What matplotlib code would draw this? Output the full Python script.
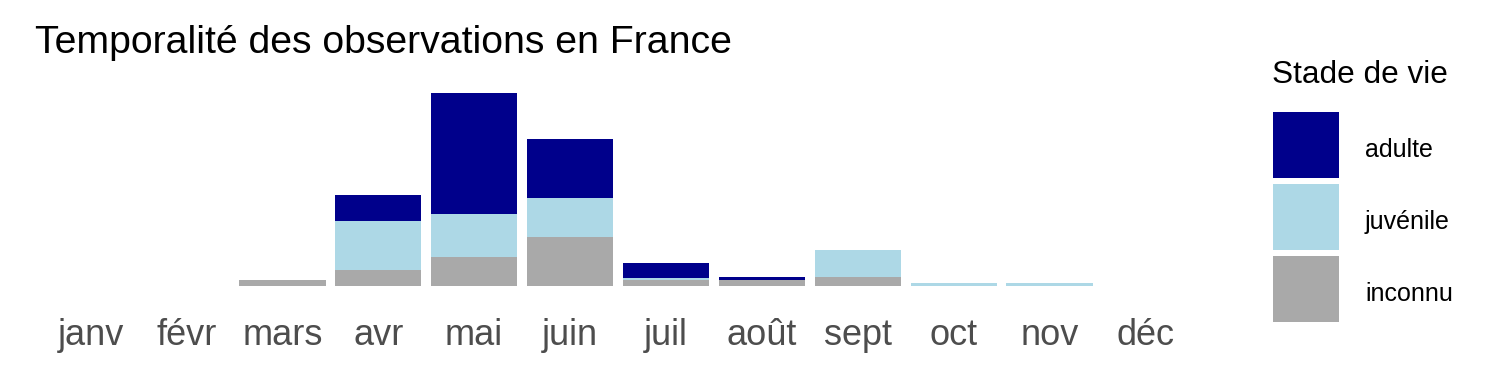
import matplotlib
matplotlib.use("Agg")
import matplotlib.pyplot as plt
from matplotlib.patches import Rectangle
import numpy as np

plt.rcParams['font.family'] = ['Liberation Sans', 'DejaVu Sans']

# donnees (unites arbitraires)
mois = ["janv", "févr", "mars", "avr", "mai", "juin",
        "juil", "août", "sept", "oct", "nov", "déc"]
inconnu = [0, 0, 6, 16, 29, 49, 6, 6, 9, 0, 0, 0]
juvenile = [0, 0, 0, 49, 43, 39, 2.5, 0, 27, 3, 3, 0]
adulte = [0, 0, 0, 26, 121, 59, 14.5, 3, 0, 0, 0, 0]

stades = ["adulte", "juvénile", "inconnu"]
couleurs = {"adulte": "#00008B", "juvénile": "#ADD8E6", "inconnu": "#A9A9A9"}

W, H = 1500, 375
fig = plt.figure(figsize=(15, 3.75), dpi=100)

# axes placed in pixel terms
left, right, top, bottom = 33.0, 1203.0, 83.35, 295.65
ax = fig.add_axes([left / W, 1 - bottom / H, (right - left) / W, (bottom - top) / H])

x = np.arange(len(mois))
inc = np.array(inconnu, dtype=float)
juv = np.array(juvenile, dtype=float)
adu = np.array(adulte, dtype=float)

ax.bar(x, inc, width=0.9, color=couleurs["inconnu"], linewidth=0)
ax.bar(x, juv, width=0.9, bottom=inc, color=couleurs["juvénile"], linewidth=0)
ax.bar(x, adu, width=0.9, bottom=inc + juv, color=couleurs["adulte"], linewidth=0)

ymax = (inc + juv + adu).max()
ax.set_xlim(-0.6, len(mois) - 0.4)
ax.set_ylim(-0.05 * ymax, 1.05 * ymax)
ax.set_xticks(x)
ax.set_xticklabels(mois, fontsize=26, color="#4D4D4D")
ax.tick_params(axis="x", length=0, pad=16)
ax.set_yticks([])
for s in ax.spines.values():
    s.set_visible(False)

fig.text(35 / W, 1 - 52.7 / H, "Temporalité des observations en France",
         fontsize=28.3, va="baseline", ha="left")

# legende
fig.text(1271.5 / W, 1 - 83 / H, "Stade de vie", fontsize=22.7,
         va="baseline", ha="left")
key_tops = [111.7, 184.0, 256.0]
for st, kt in zip(stades, key_tops):
    fig.patches.append(Rectangle((1272.7 / W, 1 - (kt + 66) / H), 66.3 / W, 66 / H,
                                 transform=fig.transFigure, facecolor=couleurs[st],
                                 edgecolor="none"))
    fig.text(1365 / W, 1 - (kt + 38) / H, st, fontsize=18, va="center", ha="left")

fig.savefig("out.png", dpi=100)
